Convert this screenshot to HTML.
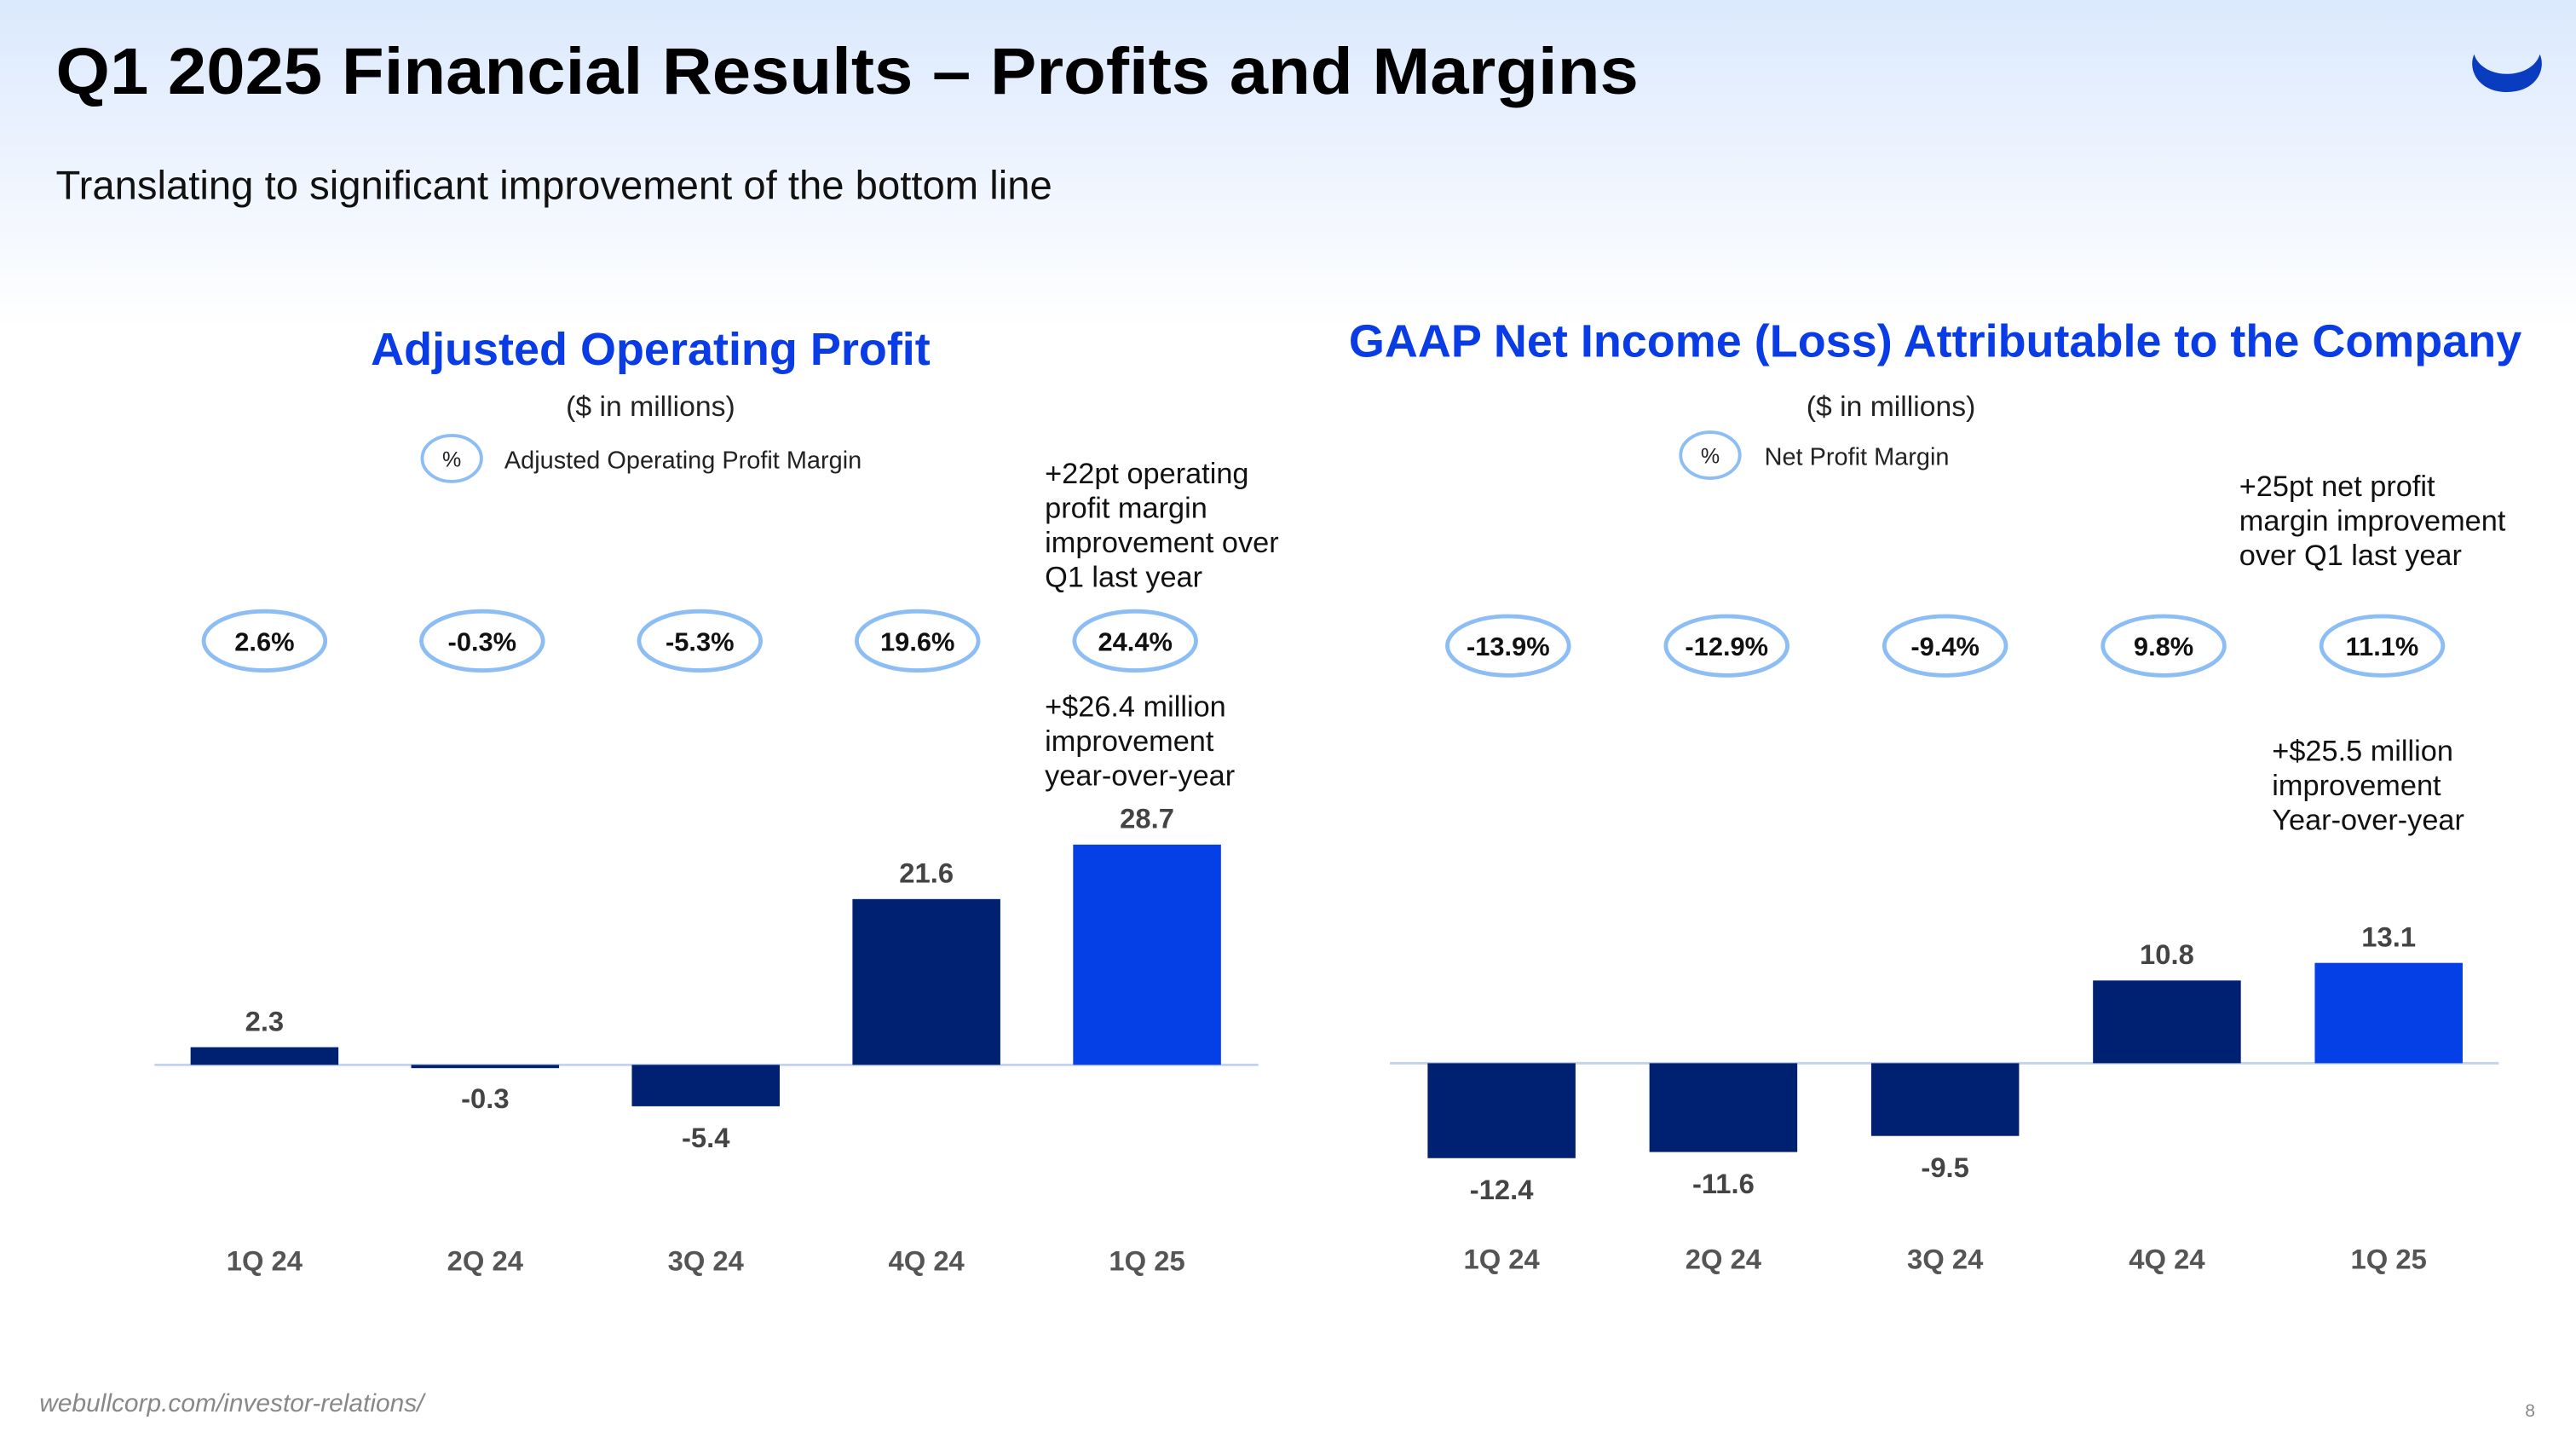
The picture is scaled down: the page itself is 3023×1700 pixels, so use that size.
<!DOCTYPE html>
<html><head><meta charset="utf-8"><style>
html,body{margin:0;padding:0;width:3023px;height:1700px;overflow:hidden;background:#fff}
#wrap{position:absolute;left:0;top:0;width:1568px;height:882px;transform:scale(1.92793);transform-origin:0 0;background:linear-gradient(#dbe9fd 0px,#f1f6fe 120px,#fff 200px);font-family:"Liberation Sans",sans-serif}
.t{position:absolute;white-space:nowrap}
</style></head><body>
<div id="wrap">
<div class="t" style="left:34px;top:22px;font-size:40px;font-weight:bold;color:#000;transform:scaleX(1.057);transform-origin:0 0">Q1 2025 Financial Results – Profits and Margins</div>
<div class="t" style="left:34px;top:100px;font-size:24.5px;color:#111">Translating to significant improvement of the bottom line</div>
<svg style="position:absolute;left:1500px;top:28px" width="52" height="34" viewBox="0 0 52 34"><path d="M6 5 C2 14,8 28,26 28 C44 28,50 14,46 5 C44 12,36 17,26 17 C16 17,8 12,6 5Z" fill="#0a3cbf"/></svg>
<div class="t" style="left:24px;top:846px;font-size:15.5px;font-style:italic;color:#888">webullcorp.com/investor-relations/</div>
<div class="t" style="left:1537px;top:853px;font-size:11px;color:#888">8</div>
<svg id="chart" style="position:absolute;left:0;top:0" width="1568" height="882"></svg>
</div>
<script>
const cats=["1Q 24","2Q 24","3Q 24","4Q 24","1Q 25"];
const aopValues=[2.3,-0.3,-5.4,21.6,28.7];
const aopMargins=["2.6%","-0.3%","-5.3%","19.6%","24.4%"];
const niValues=[-12.4,-11.6,-9.5,10.8,13.1];
const niMargins=["-13.9%","-12.9%","-9.4%","9.8%","11.1%"];
const NS="http://www.w3.org/2000/svg";
const svg=document.getElementById('chart');
function mk(tag,attrs,txt){const e=document.createElementNS(NS,tag);for(const k in attrs)e.setAttribute(k,attrs[k]);if(txt!=null)e.textContent=txt;svg.appendChild(e);return e;}
function txt(x,y,s,opt){return mk('text',Object.assign({x:x,y:y,'font-family':'Liberation Sans, sans-serif','font-size':17,fill:'#222'},opt||{}),s);}
function chart(cfg){
  const xPos=i=>cfg.x0+i*cfg.step;
  const yPos=v=>cfg.base-v*cfg.k;
  const ax=mk('line',{x1:cfg.lx1,x2:cfg.lx2,y1:cfg.base,y2:cfg.base,stroke:'#c5d3ea','stroke-width':1.5});
  
  
  cfg.vals.forEach((v,i)=>{
    const x=xPos(i),y=yPos(v);
    const r=mk('rect',{x:x-45,y:Math.min(y,cfg.base),width:90,height:Math.max(Math.abs(v*cfg.k),2),fill:i==4?'#0440e6':'#002171'});
    
    
    const ly=v>=0?y-10:y+25;
    const l=txt(x,ly,v.toFixed(1),{'text-anchor':'middle','font-weight':'bold',fill:'#444'});
    
    
    const c=txt(x,cfg.catY,cats[i],{'text-anchor':'middle','font-weight':'bold',fill:'#555'});
    
    
    const ex=cfg.ex0+i*cfg.estep;
    const el=mk('ellipse',{cx:ex,cy:cfg.ey,rx:37,ry:18,fill:'#fff',stroke:'#8cbdf5','stroke-width':2.5});
    
    
    const mt=txt(ex,cfg.ey+6,cfg.margins[i],{'text-anchor':'middle','font-weight':'bold',fill:'#111',"font-size":16});
    
    
  });
}
chart({id:'aop',vals:aopValues,margins:aopMargins,x0:161,step:134.3,base:648,k:4.67,lx1:94,lx2:766,catY:773,ex0:161,estep:132.5,ey:390});
chart({id:'ni',vals:niValues,margins:niMargins,x0:914,step:135,base:647,k:4.66,lx1:846,lx2:1521,catY:772,ex0:918,estep:133,ey:393});
function label(x,y,s,opt,name){const e=txt(x,y,s,opt);return e;}
label(396,222,'Adjusted Operating Profit',{'text-anchor':'middle','font-size':28,'font-weight':'bold',fill:'#0a3ce6'},'left-chart-title');
label(1178,217,'GAAP Net Income (Loss) Attributable to the Company',{'text-anchor':'middle','font-size':28,'font-weight':'bold',fill:'#0a3ce6'},'right-chart-title');
label(396,253,'($ in millions)',{'text-anchor':'middle','font-size':17.5},'left-units');
label(1151,253,'($ in millions)',{'text-anchor':'middle','font-size':17.5},'right-units');
[[275,279,'Adjusted Operating Profit Margin',307],[1041,277,'Net Profit Margin',1074]].forEach((d,i)=>{
  const e=mk('ellipse',{cx:d[0],cy:d[1],rx:18,ry:14,fill:'#fff',stroke:'#8cbdf5','stroke-width':2});
  
  
  label(d[0],d[1]+5,'%',{'text-anchor':'middle','font-size':13},'legend-marker-text');
  label(d[3],d[1]+6,d[2],{'font-size':15},'legend-entry');
});
const notes=[[636,294,['+22pt operating','profit margin','improvement over','Q1 last year']],[636,436,['+$26.4 million','improvement','year-over-year']],[1363,302,['+25pt net profit','margin improvement','over Q1 last year']],[1383,463,['+$25.5 million','improvement','Year-over-year']]];
notes.forEach(n=>n[2].forEach((s,j)=>label(n[0],n[1]+j*21,s,{'font-size':17.8,fill:'#111'},'annotation')));
</script>
</body></html>
